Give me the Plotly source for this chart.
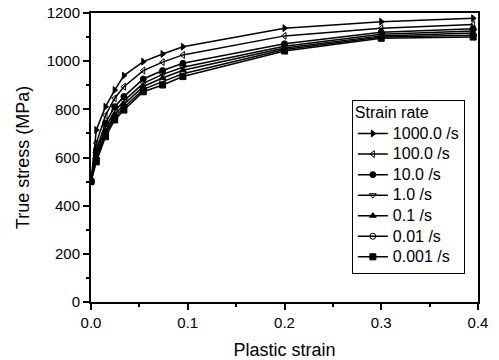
import plotly.graph_objects as go

strain = [0.0, 0.0055, 0.015, 0.0245, 0.034, 0.054, 0.074, 0.095, 0.2, 0.3, 0.395]
labels = ["1000.0 /s", "100.0 /s", "10.0 /s", "1.0 /s", "0.1 /s", "0.01 /s", "0.001 /s"]
s_1000 = [500, 714, 811, 880, 940, 998, 1030, 1060, 1137, 1164, 1178]
s_100 = [500, 660, 775, 846, 894, 961, 996, 1026, 1105, 1137, 1152]
s_10 = [500, 631, 743, 811, 853, 926, 961, 991, 1072, 1120, 1135]
s_1 = [500, 615, 725, 792, 835, 908, 945, 975, 1062, 1112, 1125]
s_01 = [500, 603, 710, 778, 820, 895, 930, 962, 1055, 1105, 1117]
s_001 = [500, 592, 698, 766, 808, 883, 915, 948, 1048, 1100, 1108]
s_0001 = [500, 582, 686, 756, 797, 873, 901, 936, 1042, 1095, 1100]
series = [s_1000, s_100, s_10, s_1, s_01, s_001, s_0001]
symbols = ["triangle-right", "triangle-left-open", "circle", "triangle-down-open",
           "triangle-up", "circle-open", "square"]

fig = go.Figure()
for lab, ys, sym in zip(labels, series, symbols):
    fig.add_trace(go.Scatter(
        x=strain, y=ys, name=f"<span style='font-size:16px'>{lab}</span>",
        mode="lines+markers",
        line=dict(color="black", width=1.5),
        marker=dict(symbol=sym, size=6, color="black",
                    line=dict(color="black", width=1)),
    ))

font = "Liberation Sans, Arial, sans-serif"
fig.update_layout(
    width=499, height=360,
    margin=dict(l=91, r=21, t=13, b=58, autoexpand=False),
    paper_bgcolor="white", plot_bgcolor="white",
    font=dict(family=font, size=15, color="black"),
    showlegend=True,
    legend=dict(
        title=dict(text="<span style='font-size:16px'>Strain rate</span>",
                   font=dict(size=13.5)),
        x=0.674, y=0.70, xanchor="left", yanchor="top",
        bordercolor="black", borderwidth=1, bgcolor="white",
        font=dict(size=13.5), tracegroupgap=0,
    ),
    xaxis=dict(
        range=[0, 0.4], dtick=0.1, tickformat=".1f", automargin=False,
        showline=True, linecolor="black", linewidth=2, mirror=True,
        ticks="outside", ticklen=6, tickwidth=1.5, tickcolor="black",
        minor=dict(dtick=0.05, ticks="outside", ticklen=3, tickcolor="black"),
        showgrid=False, zeroline=False,
        title=dict(text="Plastic strain", font=dict(size=18), standoff=15),
        tickfont=dict(size=15),
    ),
    yaxis=dict(
        range=[0, 1200], dtick=200, automargin=False,
        showline=True, linecolor="black", linewidth=2, mirror=True,
        ticks="outside", ticklen=6, tickwidth=1.5, tickcolor="black",
        minor=dict(dtick=100, ticks="outside", ticklen=3, tickcolor="black"),
        showgrid=False, zeroline=False,
        title=dict(text="True stress (MPa)", font=dict(size=18), standoff=12),
        tickfont=dict(size=15),
    ),
)
fig.write_html("out.html")
